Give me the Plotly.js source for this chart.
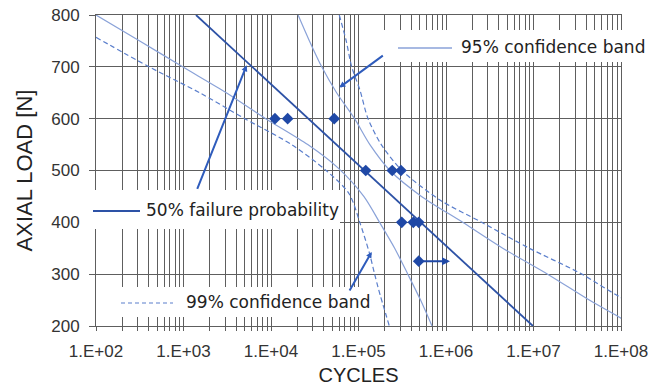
<!DOCTYPE html>
<html>
<head>
<meta charset="utf-8">
<script src="https://cdn.plot.ly/plotly-3.0.1.min.js"></script>
<style>html,body{margin:0;padding:0;background:#fff;}#chart{width:648px;height:390px;}</style>
</head>
<body>
<div id="chart"></div>
<script>
// ---- data ----
// 50% failure probability line
const median50Cycles = [1390, 118000, 9860000];
const median50Load   = [800, 500, 200];

// 95% confidence band (lower and upper curves)
const lower95Cycles = [100, 316, 977, 3080, 8710, 26300, 58300, 115000, 174000, 259000, 366000, 512000, 692000];
const lower95Load   = [800, 750, 700, 650, 600, 550, 505, 450, 400, 350, 300, 250, 200];
const upper95Cycles = [20400, 27500, 38000, 56200, 90200, 135000, 229000, 525000, 1550000, 4450000, 14500000, 43400000, 100000000, 141000000];
const upper95Load   = [800, 750, 700, 650, 600, 550, 500, 450, 400, 350, 300, 250, 215, 200];

// 99% confidence band (lower and upper curves)
const lower99Cycles = [100, 404, 1530, 5010, 17200, 42700, 77600, 103500, 133000, 153000, 170000, 225000];
const lower99Load   = [757, 700, 650, 600, 550, 500, 456, 400, 341, 300, 270, 200];
const upper99Cycles = [60300, 72400, 83600, 104000, 128500, 182000, 314000, 853000, 2560000, 8950000, 34000000, 97500000, 468000000];
const upper99Load   = [800, 750, 700, 655, 600, 550, 500, 443, 400, 350, 302, 256, 200];

// test results
const testCycles = [11100, 15500, 52800, 121000, 243000, 306000, 312000, 423000, 488000];
const testLoad   = [600, 600, 600, 500, 500, 500, 400, 400, 400];
// run-out specimen (arrow points to the right)
const runoutCycles = [488000];
const runoutLoad   = [325];
const runoutArrowTo = [1110000];

// axis ticks
const xTickVals = [1e2, 1e3, 1e4, 1e5, 1e6, 1e7, 1e8];
const xTickText = ['1.E+02', '1.E+03', '1.E+04', '1.E+05', '1.E+06', '1.E+07', '1.E+08'];
const yTickVals = [200, 300, 400, 500, 600, 700, 800];

// labels and where their leader arrows point (cycles, load)
const label50 = '50% failure probability';
const label95 = '95% confidence band';
const label99 = '99% confidence band';
const pointer50 = [5270, 703];
const pointer95 = [60400, 660];
const pointer99 = [141600, 343];

// ---- styles ----
const darkBlue = '#2d52a6';
const lightBlue = '#8aa2d8';
const dashBlue = '#5b7fcc';
const markBlue = '#1f48a6';
const gridCol = '#5e5e5e';
const txtFont = 'DejaVu Sans, Verdana, sans-serif';
const axFont = 'Liberation Sans, Arial, sans-serif';

const traces = [
  {x: lower99Cycles, y: lower99Load, mode: 'lines', line: {color: dashBlue, width: 1.2, dash: '5px,3px', shape: 'spline', smoothing: 0.8}},
  {x: upper99Cycles, y: upper99Load, mode: 'lines', line: {color: dashBlue, width: 1.2, dash: '5px,3px', shape: 'spline', smoothing: 0.8}},
  {x: lower95Cycles, y: lower95Load, mode: 'lines', line: {color: lightBlue, width: 1.2, shape: 'spline', smoothing: 0.8}},
  {x: upper95Cycles, y: upper95Load, mode: 'lines', line: {color: lightBlue, width: 1.2, shape: 'spline', smoothing: 0.8}},
  {x: median50Cycles, y: median50Load, mode: 'lines', line: {color: darkBlue, width: 1.8}},
  {x: testCycles, y: testLoad, mode: 'markers', marker: {symbol: 'diamond', size: 9, color: markBlue}},
  {x: runoutCycles, y: runoutLoad, mode: 'markers', marker: {symbol: 'diamond', size: 9, color: markBlue}}
];

// plot area in pixels (for paper-referenced boxes)
const L = 96, R = 621, T = 15, B = 326;
const px = v => (v - L) / (R - L);
const py = v => (B - v) / (B - T);

function box(x0, x1, y0, y1) {
  return {type: 'rect', xref: 'paper', yref: 'paper', x0: px(x0), x1: px(x1), y0: py(y1), y1: py(y0),
          fillcolor: '#ffffff', line: {width: 0}, layer: 'above'};
}
function sample(x0, x1, y, color, width, dash) {
  return {type: 'line', xref: 'paper', yref: 'paper', x0: px(x0), x1: px(x1), y0: py(y), y1: py(y),
          line: {color: color, width: width, dash: dash || 'solid'}, layer: 'above'};
}

const shapes = [
  box(383, 648, 30, 62), sample(398, 452, 48, lightBlue, 1.3),
  box(88, 340, 190, 229), sample(93, 140, 211, darkBlue, 2),
  box(113, 377, 287, 317), sample(121, 173, 303, dashBlue, 1.2, '4px,3px')
];

function textAnn(t, x, y) {
  return {text: t, xref: 'paper', yref: 'paper', x: px(x), y: py(y), xanchor: 'left', yanchor: 'middle',
          showarrow: false, font: {family: txtFont, size: 17, color: '#222222'}};
}
function arrowAnn(pt, ax, ay) {
  return {text: '', x: Math.log10(pt[0]), y: pt[1], xref: 'x', yref: 'y', showarrow: true,
          arrowhead: 2, arrowsize: 0.6, arrowwidth: 2, arrowcolor: '#2f5cbc', ax: ax, ay: ay, standoff: 0};
}

const annotations = [
  textAnn(label95, 459, 47),
  textAnn(label50, 144, 210),
  textAnn(label99, 184, 302),
  arrowAnn(pointer95, 45, -33),
  arrowAnn(pointer50, -50, 125),
  arrowAnn(pointer99, -23, 40),
  {text: '', x: Math.log10(runoutArrowTo[0]), y: runoutLoad[0], xref: 'x', yref: 'y', showarrow: true,
   arrowhead: 2, arrowsize: 0.8, arrowwidth: 2, arrowcolor: markBlue,
   ax: Math.log10(runoutCycles[0]), ay: runoutLoad[0], axref: 'x', ayref: 'y', standoff: 0}
];

const layout = {
  width: 648, height: 390,
  margin: {l: L, r: 648 - R, t: T, b: 390 - B},
  paper_bgcolor: '#ffffff', plot_bgcolor: '#ffffff',
  showlegend: false,
  xaxis: {
    type: 'log', range: [2, 8], tickmode: 'array', tickvals: xTickVals, ticktext: xTickText,
    showgrid: true, gridcolor: gridCol, gridwidth: 1, zeroline: false,
    showline: true, linecolor: gridCol, linewidth: 1, mirror: true,
    ticks: 'outside', ticklen: 4, tickcolor: gridCol, ticklabelstandoff: 6,
    ticklabeloverflow: 'allow',
    minor: {dtick: 'D1', showgrid: true, gridcolor: gridCol, gridwidth: 1, ticks: 'outside', ticklen: 4, tickcolor: gridCol},
    tickfont: {family: axFont, size: 17, color: '#333333'},
    title: {text: 'CYCLES', font: {family: axFont, size: 20, color: '#222222'}, standoff: 7}
  },
  yaxis: {
    range: [200, 800], tickmode: 'array', tickvals: yTickVals,
    showgrid: true, gridcolor: gridCol, gridwidth: 1, zeroline: false,
    showline: true, linecolor: gridCol, linewidth: 1, mirror: true,
    ticks: 'outside', ticklen: 6, tickcolor: gridCol, ticklabelstandoff: 6,
    ticklabeloverflow: 'allow',
    tickfont: {family: axFont, size: 17, color: '#333333'},
    title: {text: 'AXIAL LOAD [N]', font: {family: axFont, size: 22, color: '#222222'}, standoff: 12}
  },
  shapes: shapes,
  annotations: annotations
};

Plotly.newPlot('chart', traces, layout, {displayModeBar: false, staticPlot: true});
</script>
</body>
</html>
